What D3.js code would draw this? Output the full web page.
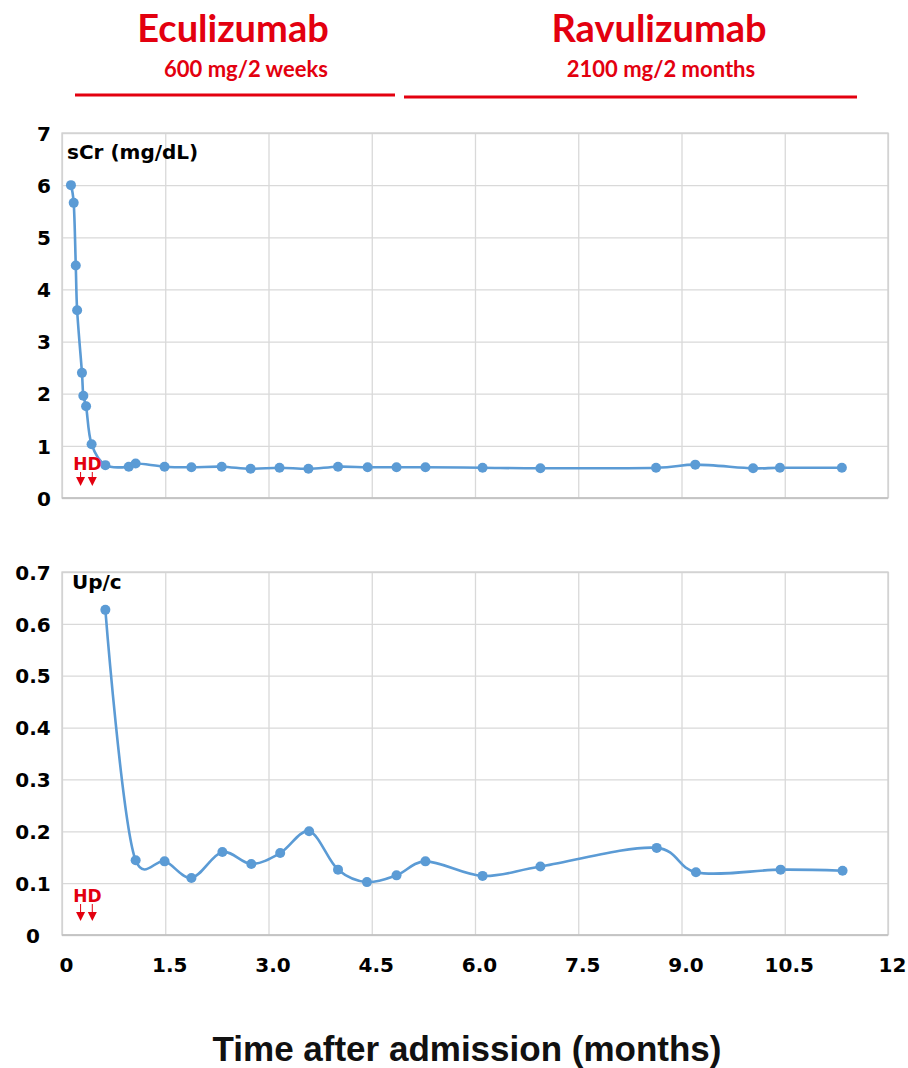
<!DOCTYPE html>
<html>
<head>
<meta charset="utf-8">
<script src="https://cdn.jsdelivr.net/npm/d3@7"></script>
<style>
  body { margin: 0; background: #fff; }
  svg text { font-family: "DejaVu Sans", sans-serif; font-weight: bold; }
</style>
</head>
<body>
<div id="chart"></div>
<script>
// months after admission / values
var crMonths = [0.13, 0.17, 0.20, 0.22, 0.29, 0.31, 0.35, 0.43, 0.63, 0.97, 1.07, 1.49, 1.88, 2.32,
  2.74, 3.16, 3.58, 4.01, 4.44, 4.86, 5.28, 6.11, 6.95, 8.63, 9.20, 10.04, 10.43, 11.33];
var crValues = [6.0, 5.66, 4.46, 3.6, 2.4, 1.96, 1.76, 1.03, 0.63, 0.6, 0.66, 0.6, 0.59, 0.6,
  0.56, 0.58, 0.56, 0.6, 0.59, 0.59, 0.59, 0.58, 0.57, 0.58, 0.64, 0.57, 0.58, 0.58];

var upcMonths = [0.63, 1.07, 1.49, 1.88, 2.33, 2.75, 3.17, 3.59, 4.01, 4.43, 4.86, 5.28, 6.11,
  6.95, 8.64, 9.21, 10.44, 11.34];
var upcValues = [0.627, 0.144, 0.142, 0.11, 0.16, 0.137, 0.158, 0.2, 0.126, 0.102, 0.115, 0.142,
  0.114, 0.132, 0.168, 0.121, 0.126, 0.124];

var hdMonths = [0.27, 0.44];

var xTicks = [0, 1.5, 3, 4.5, 6, 7.5, 9, 10.5, 12];
var xTickLabels = ["0", "1.5", "3.0", "4.5", "6.0", "7.5", "9.0", "10.5", "12"];
var crTicks = [0, 1, 2, 3, 4, 5, 6, 7];
var upcTicks = [0, 0.1, 0.2, 0.3, 0.4, 0.5, 0.6, 0.7];
var upcTickLabels = ["0", "0.1", "0.2", "0.3", "0.4", "0.5", "0.6", "0.7"];

var svgWidth = 908;
var svgHeight = 1068;
var blue = "#5b9bd5";
var red = "#e3000f";

var svg = d3.select("#chart")
  .append("svg")
  .attr("width", svgWidth)
  .attr("height", svgHeight);

var x = d3.scaleLinear().domain([0, 12]).range([62, 888]);

// treatment headers
var headers = [
  {name: "Eculizumab", dose: "600 mg/2 weeks", cx: 233, dx: 246, x1: 75, x2: 395, ly: 95},
  {name: "Ravulizumab", dose: "2100 mg/2 months", cx: 659, dx: 661, x1: 404, x2: 857, ly: 97}
];
headers.forEach(function(h) {
  svg.append("text").attr("x", h.cx).attr("y", 42)
    .attr("text-anchor", "middle").attr("fill", red)
    .style("font-family", "Lato")
    .attr("font-size", 38).text(h.name);
  svg.append("text").attr("x", h.dx).attr("y", 77)
    .attr("text-anchor", "middle").attr("fill", red)
    .style("font-family", "Lato")
    .attr("font-size", 22).text(h.dose);
  svg.append("line").attr("x1", h.x1).attr("x2", h.x2)
    .attr("y1", h.ly).attr("y2", h.ly)
    .attr("stroke", red).attr("stroke-width", 3);
});

function drawPanel(opt) {
  var y = d3.scaleLinear().domain(opt.domain).range([opt.bottom, opt.top]);
  var g = svg.append("g");

  // grid
  g.append("g")
    .attr("transform", `translate(0, ${opt.bottom})`)
    .call(d3.axisBottom(x).tickValues(xTicks).tickSize(-(opt.bottom - opt.top)).tickFormat(""))
    .call(s => s.select(".domain").remove())
    .selectAll("line").attr("stroke", "#d9d9d9").attr("stroke-width", 1.3);
  g.append("g")
    .attr("transform", "translate(62, 0)")
    .call(d3.axisLeft(y).tickValues(opt.ticks).tickSize(-(888 - 62)).tickFormat(""))
    .call(s => s.select(".domain").remove())
    .selectAll("line").attr("stroke", "#d9d9d9").attr("stroke-width", 1.3);

  g.append("rect")
    .attr("x", 62).attr("y", opt.top)
    .attr("width", 888 - 62).attr("height", opt.bottom - opt.top)
    .attr("fill", "none").attr("stroke", "#d0d0d0").attr("stroke-width", 1.3);
  g.append("line")
    .attr("x1", 62).attr("x2", 888).attr("y1", opt.bottom).attr("y2", opt.bottom)
    .attr("stroke", "#bfbfbf").attr("stroke-width", 1.5);

  // y tick labels
  var yl = g.append("g")
    .attr("transform", "translate(62, 0)")
    .call(d3.axisLeft(y).tickValues(opt.ticks).tickSize(0)
      .tickFormat((d, i) => opt.labels ? opt.labels[i] : d));
  yl.select(".domain").remove();
  yl.selectAll("text")
    .attr("x", opt.labelX - 62).attr("dy", "0.36em")
    .attr("text-anchor", "middle")
    .attr("font-family", "DejaVu Sans").attr("font-weight", "bold")
    .attr("font-size", 20).attr("fill", "#000");

  // series name
  g.append("text").attr("x", opt.nameX).attr("y", opt.nameY)
    .attr("font-size", 20).attr("fill", "#000").text(opt.name);

  // series
  var pts = opt.months.map((m, i) => [m, opt.values[i]]);
  var line = d3.line()
    .x(d => x(d[0]))
    .y(d => y(d[1]))
    .curve(d3.curveCatmullRom.alpha(0.2));
  g.append("path").datum(pts)
    .attr("d", line)
    .attr("fill", "none").attr("stroke", blue).attr("stroke-width", 2.6);
  g.selectAll("circle.pt").data(pts).enter()
    .append("circle").attr("class", "pt")
    .attr("cx", d => x(d[0])).attr("cy", d => y(d[1]))
    .attr("r", 5).attr("fill", blue);

  // HD arrows
  var hdMid = (x(hdMonths[0]) + x(hdMonths[1])) / 2;
  g.append("text").attr("x", hdMid + 1).attr("y", opt.bottom - opt.hdText)
    .attr("text-anchor", "middle").attr("font-size", 17).attr("fill", red).text("HD");
  hdMonths.forEach(function(m) {
    var ax = x(m), tip = opt.bottom - opt.hdTip;
    g.append("line").attr("x1", ax).attr("x2", ax)
      .attr("y1", opt.bottom - opt.hdText + 2).attr("y2", tip - 6)
      .attr("stroke", red).attr("stroke-width", 1);
    g.append("path")
      .attr("d", `M${ax - 4.5},${tip - 9} L${ax + 4.5},${tip - 9} L${ax},${tip} Z`)
      .attr("fill", red);
  });
}

drawPanel({
  top: 133, bottom: 498, domain: [0, 7], ticks: crTicks, labelX: 44,
  name: "sCr (mg/dL)", nameX: 67, nameY: 159,
  months: crMonths, values: crValues, hdText: 28, hdTip: 12
});

drawPanel({
  top: 572, bottom: 935, domain: [0, 0.7], ticks: upcTicks, labels: upcTickLabels, labelX: 33,
  name: "Up/c", nameX: 72, nameY: 589,
  months: upcMonths, values: upcValues, hdText: 33, hdTip: 14
});

// x tick labels
var xl = svg.append("g")
  .attr("transform", "translate(4, 935)")
  .call(d3.axisBottom(x).tickValues(xTicks).tickSize(0).tickPadding(23)
    .tickFormat((d, i) => xTickLabels[i]));
xl.select(".domain").remove();
xl.selectAll("text")
  .attr("font-family", "DejaVu Sans").attr("font-weight", "bold")
  .attr("font-size", 20).attr("fill", "#000");

svg.append("text")
  .attr("x", 467).attr("y", 1061)
  .attr("text-anchor", "middle")
  .style("font-family", "'Liberation Sans', Arial, sans-serif")
  .attr("font-size", 35).attr("fill", "#111")
  .text("Time after admission (months)");
</script>
</body>
</html>
